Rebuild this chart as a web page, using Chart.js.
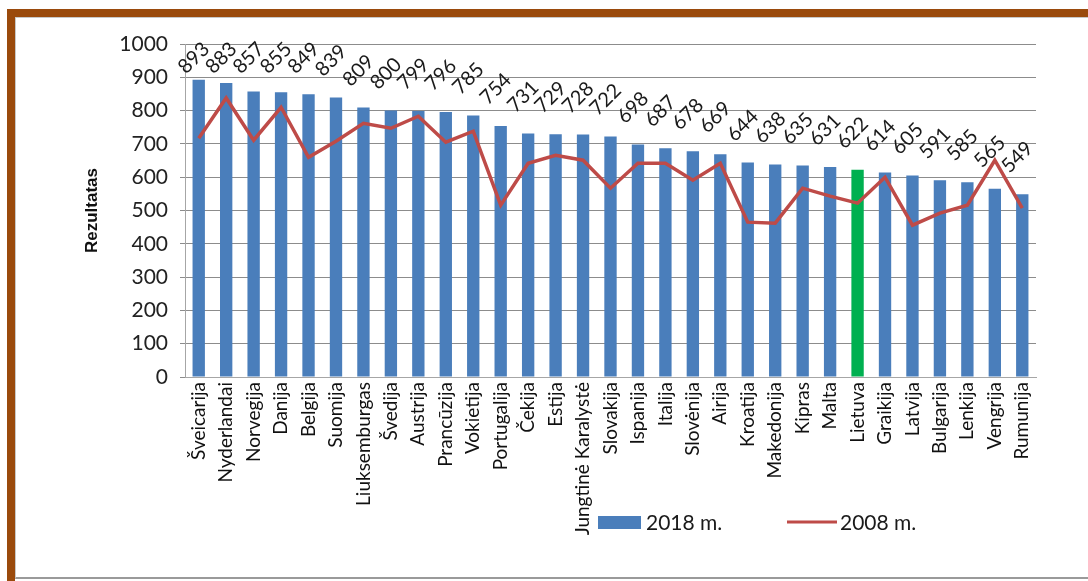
<!DOCTYPE html>
<html>
<head>
<meta charset="utf-8">
<script src="https://cdn.jsdelivr.net/npm/chart.js@4.4.1/dist/chart.umd.min.js"></script>
<style>
  html, body { margin: 0; padding: 0; background: #ffffff; }
  body { width: 1088px; height: 581px; position: relative; overflow: hidden; }
  .frame {
    position: absolute; left: 7px; top: 9px; width: 1100px; height: 590px;
    border-left: 8px solid #9a4a0c; border-top: 8px solid #9a4a0c;
    box-sizing: border-box;
  }
  .frame-inner {
    position: absolute; left: 15px; top: 17px; width: 1100px; height: 562px;
    border-left: 1px solid #c8c8c8; border-top: 1px solid #c8c8c8;
    border-bottom: 2px solid #9a9a9a; box-sizing: border-box;
  }
  #chart { position: absolute; left: 0; top: 0; }
</style>
</head>
<body>
<div class="frame"></div>
<div class="frame-inner"></div>
<canvas id="chart" width="1088" height="581"></canvas>
<script>
// Countries, ordered by the 2018 result
const countries = [
  'Šveicarija', 'Nyderlandai', 'Norvegija', 'Danija', 'Belgija', 'Suomija',
  'Liuksemburgas', 'Švedija', 'Austrija', 'Prancūzija', 'Vokietija', 'Portugalija',
  'Čekija', 'Estija', 'Jungtinė Karalystė', 'Slovakija', 'Ispanija', 'Italija',
  'Slovėnija', 'Airija', 'Kroatija', 'Makedonija', 'Kipras', 'Malta', 'Lietuva',
  'Graikija', 'Latvija', 'Bulgarija', 'Lenkija', 'Vengrija', 'Rumunija'
];
// 2018 results (bars)
const results2018 = [
  893, 883, 857, 855, 849, 839, 809, 800, 799, 796, 785, 754, 731, 729, 728, 722,
  698, 687, 678, 669, 644, 638, 635, 631, 622, 614, 605, 591, 585, 565, 549
];
// 2008 results (line)
const results2008 = [
  717, 838, 711, 810, 660, 708, 762, 747, 783, 705, 738, 516, 642, 666, 651, 567,
  642, 642, 591, 642, 465, 462, 567, 543, 522, 600, 456, 492, 516, 651, 507
];
// Value axis ticks
const yTicks = [0, 100, 200, 300, 400, 500, 600, 700, 800, 900, 1000];
const seriesNames = ['2018 m.', '2008 m.'];
const highlighted = 'Lietuva';

const BLUE = '#4a7ebb';
const GREEN = '#00b050';
const RED = '#be4b48';
const FONT = 'Lato, "Open Sans", sans-serif';

const barColors = countries.map(c => c === highlighted ? GREEN : BLUE);

// Value labels above the bars, turned 45 degrees (same text helper the axes use)
const valueLabels = {
  id: 'valueLabels',
  afterDraw(chart) {
    const h = Chart.helpers;
    const meta = chart.getDatasetMeta(1);
    const ds = chart.data.datasets[1];
    const ctx = chart.ctx;
    const top = chart.chartArea.top;
    const font = h.toFont({ family: FONT, size: 20 });
    meta.data.forEach((el, i) => {
      const cx = el.x - 5;
      const cy = Math.max(el.y - 37, top + 14);
      h.renderText(ctx, String(ds.data[i]), 0, 0, font, {
        translation: [cx, cy],
        rotation: -Math.PI / 4,
        color: '#1a1a1a',
        textAlign: 'center',
        textBaseline: 'middle'
      });
    });
  }
};

// Legend row below the category labels
const bottomLegend = {
  id: 'bottomLegend',
  afterDraw(chart) {
    const ctx = chart.ctx;
    const y = 522;
    ctx.save();
    ctx.font = '21px ' + FONT;
    ctx.textBaseline = 'middle';
    ctx.textAlign = 'left';
    ctx.fillStyle = BLUE;
    ctx.fillRect(598, y - 6, 43, 13);
    ctx.fillStyle = '#1a1a1a';
    ctx.fillText(seriesNames[0], 646, y + 1);
    ctx.strokeStyle = RED;
    ctx.lineWidth = 3;
    ctx.beginPath();
    ctx.moveTo(787, y);
    ctx.lineTo(837, y);
    ctx.stroke();
    ctx.fillText(seriesNames[1], 840, y + 1);
    ctx.restore();
  }
};

new Chart(document.getElementById('chart'), {
  data: {
    labels: countries,
    datasets: [
      {
        type: 'line',
        label: seriesNames[1],
        data: results2008,
        borderColor: RED,
        borderWidth: 3.5,
        pointRadius: 0,
        tension: 0,
        order: 0
      },
      {
        type: 'bar',
        label: seriesNames[0],
        data: results2018,
        backgroundColor: barColors,
        barPercentage: 0.9,
        categoryPercentage: 0.5,
        order: 1
      }
    ]
  },
  options: {
    responsive: false,
    animation: false,
    layout: { padding: { left: 78, top: 44, right: 52, bottom: 20 } },
    plugins: {
      legend: { display: false },
      tooltip: { enabled: false }
    },
    scales: {
      x: {
        grid: { display: false, drawTicks: false },
        border: { display: true, color: '#a6a6a6', width: 1 },
        ticks: {
          autoSkip: false,
          minRotation: 90,
          maxRotation: 90,
          padding: 5,
          color: '#111111',
          font: { family: FONT, size: 19 }
        },
        afterFit(scale) { scale.height = 184; }
      },
      y: {
        min: 0,
        max: 1000,
        afterBuildTicks(scale) { scale.ticks = yTicks.map(v => ({ value: v })); },
        grid: { color: '#8c8c8c', lineWidth: 1, tickLength: 5 },
        border: { display: true, color: '#a6a6a6', width: 1 },
        ticks: {
          padding: 12,
          color: '#222222',
          font: { family: FONT, size: 21 },
          callback: v => String(v)
        },
        title: {
          display: true,
          text: 'Rezultatas',
          color: '#111111',
          padding: { top: 4, bottom: 0 },
          font: { family: '"Liberation Sans", Arial, sans-serif', size: 17, weight: 'bold' }
        },
        afterFit(scale) { scale.width = 107; }
      }
    }
  },
  plugins: [valueLabels, bottomLegend]
});
</script>
</body>
</html>
